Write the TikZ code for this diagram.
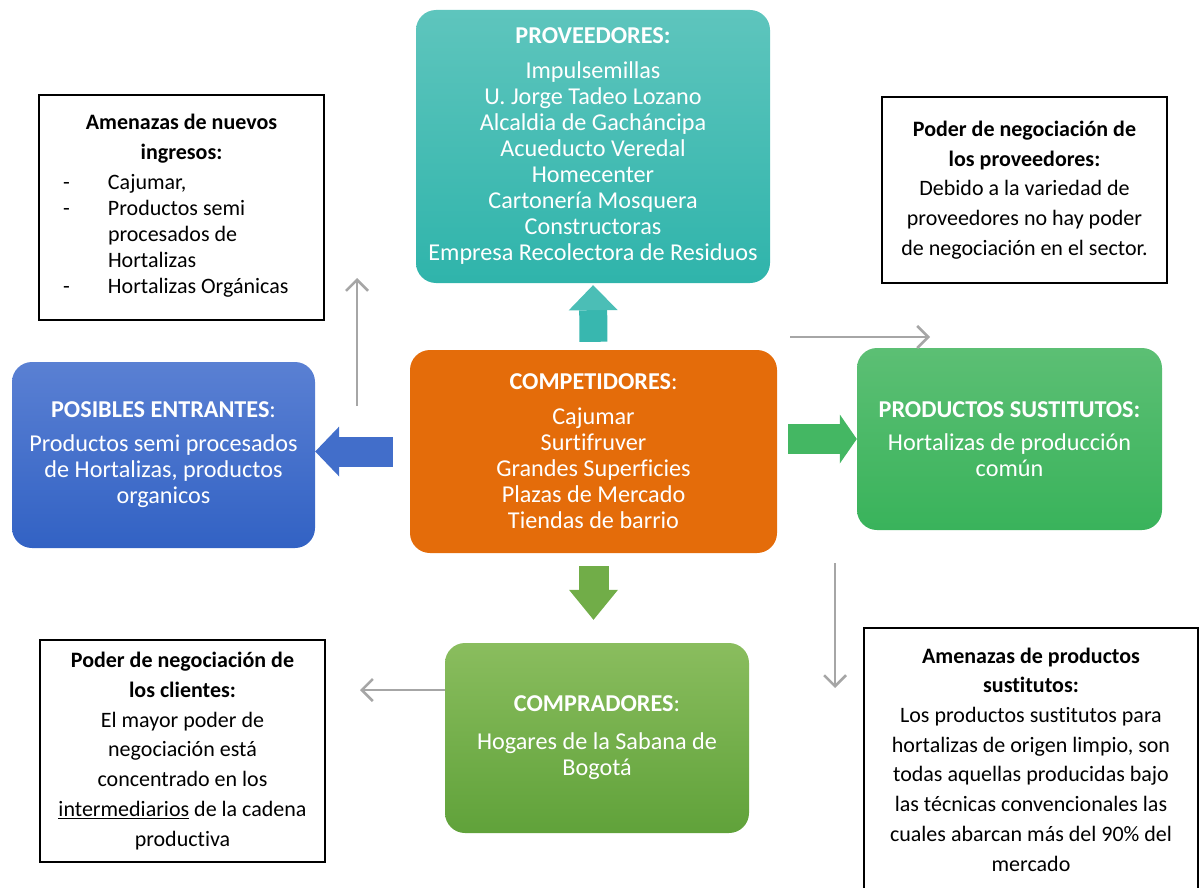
\documentclass[tikz,border=0pt]{standalone}
\usepackage{fontspec}
\setmainfont[Ligatures=NoCommon]{Carlito}
\usepackage{tikz}
\usetikzlibrary{arrows.meta, positioning}

\definecolor{tealtop}{HTML}{5EC5BD}
\definecolor{tealbot}{HTML}{2FB4AB}
\definecolor{bluetop}{HTML}{5A80D3}
\definecolor{bluebot}{HTML}{3262C4}
\definecolor{greentop}{HTML}{5CBF74}
\definecolor{greenbot}{HTML}{39B35B}
\definecolor{limetop}{HTML}{8ABD5E}
\definecolor{limebot}{HTML}{60A23A}
\definecolor{comporange}{HTML}{E46C0A}
\definecolor{linegray}{HTML}{A6A6A6}

\begin{document}
\begin{tikzpicture}[
    x=1pt, y=-1pt,
    force/.style = {rectangle, rounded corners=20pt, inner sep=0pt, text=white, align=center,
                    font=\fontsize{24.2}{26}\selectfont},
    note/.style = {rectangle, draw=black, line width=1.5pt, fill=white, inner sep=0pt, align=center,
                   font=\fontsize{22}{29.7}\selectfont},
    bigarrow/.style = {line width=#1, -{Triangle[length=25pt, width=49pt, line width=0pt]}},
    thinarrow/.style = {draw=linegray, line width=2.5pt, -{Straight Barb[length=11pt, width=22pt]}}
]
\useasboundingbox (0,0) rectangle (1204,888);

% Nodes - Five forces
\node (prov) [force, minimum width=354, minimum height=273, top color=tealtop, bottom color=tealbot] at (593,146.5)
    {\textbf{PROVEEDORES:}\\[9pt] Impulsemillas\\ U. Jorge Tadeo Lozano\\ Alcaldia de Gacháncipa\\ Acueducto Veredal\\
     Homecenter\\ Cartonería Mosquera\\ Constructoras\\ Empresa Recolectora de Residuos};
\node (entr) [force, minimum width=303, minimum height=186, top color=bluetop, bottom color=bluebot] at (163.5,455)
    {\textbf{POSIBLES ENTRANTES}:\\[8pt] Productos semi procesados\\ de Hortalizas, productos\\ organicos};
\node (comp) [force, minimum width=367, minimum height=203, fill=comporange] at (593.5,451.5)
    {\textbf{COMPETIDORES}:\\[9pt] Cajumar\\ Surtifruver\\ Grandes Superficies\\ Plazas de Mercado\\ Tiendas de barrio};
\node (prod) [force, minimum width=305, minimum height=182, top color=greentop, bottom color=greenbot] at (1009.5,439)
    {\textbf{PRODUCTOS SUSTITUTOS:}\\[7pt] Hortalizas de producción\\ común};
\node (compr) [force, minimum width=304, minimum height=190, top color=limetop, bottom color=limebot] at (597,738)
    {\textbf{COMPRADORES}:\\[12pt] Hogares de la Sabana de\\ Bogotá};

% Nodes - Notes
\node (nuevos) [note, minimum width=285, minimum height=225] at (181.5,207.5)
    {\textbf{Amenazas de nuevos}\\ \textbf{ingresos:}\\
     {\fontsize{22}{26}\selectfont\begin{tabular}[t]{@{}p{45pt}@{}p{192pt}@{}}
      - & Cajumar,\\ - & Productos semi\\ & procesados de\\ & Hortalizas\\ - & Hortalizas Orgánicas
     \end{tabular}}};
\node (pprov) [note, minimum width=285, minimum height=186] at (1024.5,190)
    {\textbf{Poder de negociación de}\\ \textbf{los proveedores:}\\ Debido a la variedad de\\
     proveedores no hay poder\\ de negociación en el sector.};
\node (pcli) [note, minimum width=285, minimum height=222] at (182.5,751)
    {\textbf{Poder de negociación de}\\ \textbf{los clientes:}\\ El mayor poder de\\ negociación está\\
     concentrado en los\\ \underline{intermediarios} de la cadena\\ productiva};
\node (psust) [note, minimum width=334, minimum height=263] at (1031,759.5)
    {\textbf{Amenazas de productos}\\ \textbf{sustitutos:}\\ Los productos sustitutos para\\
     hortalizas de origen limpio, son\\ todas aquellas producidas bajo\\ las técnicas convencionales las\\
     cuales abarcan más del 90\% del\\ mercado};

% Free ends of the gray arrows
\coordinate (up0) at (357,406);
\coordinate (up1) at (357,278);
\coordinate (rt0) at (790,337);
\coordinate (rt1) at (930,337);
\coordinate (lt0) at (445,690);
\coordinate (lt1) at (360,690);
\coordinate (dn0) at (835,563);
\coordinate (dn1) at (835,688);

% Arrows - Block arrows
\draw [bigarrow=28pt, draw=tealbot!80!tealtop, -{Triangle[length=25pt, width=49pt, line width=0pt, fill=tealtop!60!tealbot]},
       shorten <=8pt, shorten >=2pt] (comp.north) -- (prov.south);
\draw [bigarrow=30pt, draw=bluetop!40!bluebot, -{Triangle[length=24pt, width=50pt, line width=0pt]},
       shorten <=17pt] (comp.west) -- (comp.west -| entr.east);
\draw [bigarrow=30pt, draw=greenbot!70!greentop, -{Triangle[length=17pt, width=49pt, line width=0pt]},
       shorten <=11pt] (prod.west -| comp.east) -- (prod.west);
\draw [bigarrow=30pt, draw=limetop!40!limebot, -{Triangle[length=30pt, width=49pt, line width=0pt]},
       shorten <=13pt, shorten >=23pt] (comp.south) -- (comp.south |- compr.north);

% Arrows - Gray lines
\draw [thinarrow] (up0) -- (up1);
\draw [thinarrow] (rt0) -- (rt1);
\draw [thinarrow] (lt0) -- (lt1);
\draw [thinarrow] (dn0) -- (dn1);

\end{tikzpicture}
\end{document}
